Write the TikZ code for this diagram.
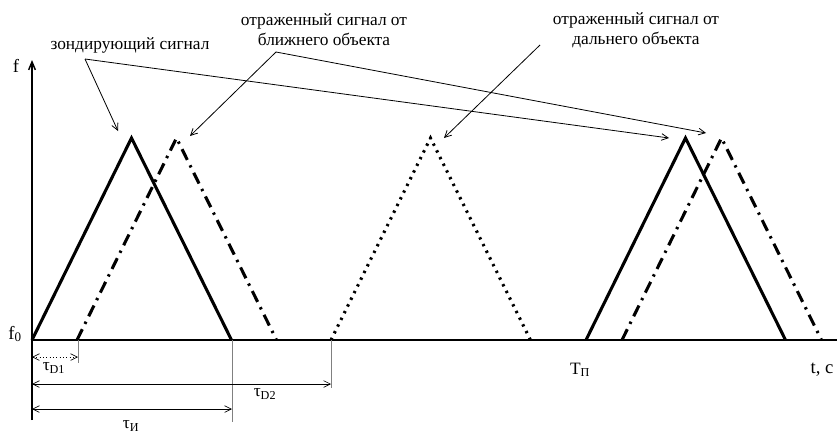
\documentclass[tikz,border=0pt]{standalone}
\usepackage{fontspec}
\setmainfont{Liberation Serif}
\usetikzlibrary{arrows.meta}

\begin{document}
\begin{tikzpicture}[
    x=0.75pt, y=-0.75pt,
    lbl/.style={font=\fontsize{13}{15}\selectfont, align=center, inner sep=0pt},
    pulse/.style={line width=2.3pt},
    echo/.style={pulse, dash pattern=on 9pt off 4.5pt on 1.8pt off 4.5pt},
    farecho/.style={pulse, dash pattern=on 1.8pt off 3.8pt},
    axis/.style={line width=1.1pt},
    pointer/.style={-{Straight Barb[length=5pt, width=5pt]}, line width=0.6pt},
    dim/.style={{Straight Barb[length=5pt, width=5pt]}-{Straight Barb[length=5pt, width=5pt]}, line width=0.5pt},
    guide/.style={line width=0.4pt, gray},
]
\useasboundingbox (0,0) rectangle (837,432);

% Axes
\coordinate (origin) at (32,340);
\coordinate (ftop) at (32,60);
\coordinate (fbot) at (32,420);
\coordinate (tend) at (837,340);
\draw[axis] (fbot) -- (origin) -- (tend);
\draw[axis, -{Straight Barb[length=6pt, width=5pt]}] (origin) -- (ftop);
\node[lbl, font=\fontsize{14}{16}\selectfont] (f) at (16,66) {f};
\node[lbl, font=\fontsize{14}{16}\selectfont] (f0) at (15,334) {f\textsubscript{0}};
\node[lbl] (tp) at (580,370) {T\textsubscript{П}};
\node[lbl, font=\fontsize{14}{16}\selectfont] (tc) at (822,370) {t, c};

% Pulses: start x / style
\foreach \x/\sty in {32/pulse, 77/echo, 331/farecho, 586/pulse, 622/echo} {
    \draw[\sty] (\x,340) -- ++(99.5,-202) -- ++(100,202);
}

% Labels
\node[lbl] (probe) at (130,45) {зондирующий сигнал};
\node[lbl] (near) at (324,30) {отраженный сигнал от\\ближнего объекта};
\node[lbl] (far) at (636,30) {отраженный сигнал от\\дальнего объекта};

% Pointers
\coordinate (probe_src) at (85,59);
\coordinate (near_src) at (276,52);
\coordinate (far_src) at (540,45);
\coordinate (probe_tip1) at (118,131);
\coordinate (probe_tip2) at (669,138);
\coordinate (near_tip1) at (190,136);
\coordinate (near_tip2) at (706,133);
\coordinate (far_tip) at (444,138);
\draw[pointer] (probe_src) -- (probe_tip1);
\draw[pointer] (probe_src) -- (probe_tip2);
\draw[pointer] (near_src) -- (near_tip1);
\draw[pointer] (near_src) -- (near_tip2);
\draw[pointer] (far_src) -- (far_tip);

% Time intervals
\coordinate (d1) at (78,357);
\coordinate (d2) at (331,384);
\coordinate (du) at (232,409);
\draw[guide] (78,340) -- (78,363);
\draw[guide] (331,340) -- (331,388);
\draw[guide] (232,340) -- (232,422);
\draw[dim, dotted] (origin |- d1) -- (d1);
\draw[dim] (origin |- d2) -- (d2);
\draw[dim] (origin |- du) -- (du);
\node[lbl] (tauD1) at (54,368) {τ\textsubscript{D1}};
\node[lbl] (tauD2) at (265,394) {τ\textsubscript{D2}};
\node[lbl] (tauI) at (131,426) {τ\textsubscript{И}};

\end{tikzpicture}
\end{document}
